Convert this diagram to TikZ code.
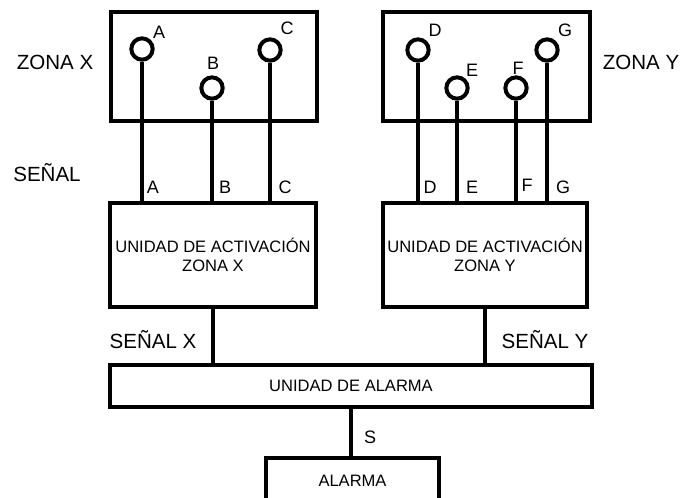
\documentclass[tikz,border=0pt]{standalone}
\usepackage{fontspec}
\setmainfont{Liberation Sans}

\begin{document}
\begin{tikzpicture}[x=0.75pt, y=-0.75pt, line width=3pt,
        box/.style={draw, rectangle, inner sep=0pt},
        sensor/.style={draw, circle, minimum size=16pt, inner sep=0pt},
        tag/.style={font=\fontsize{13.5}{16}\selectfont, inner sep=0pt},
        side/.style={font=\fontsize{15.4}{18}\selectfont, inner sep=0pt},
        unit/.style={font=\fontsize{12.4}{14.3}\selectfont, align=center}]
        \clip (0,0) rectangle (680,497);

        \node[box, minimum width=154.5pt, minimum height=81.75pt] at (214, 66.5)(zoneX){};
        \node[box, minimum width=155.25pt, minimum height=81.75pt] at (486.5, 66.5)(zoneY){};
        \node[box, unit, minimum width=154.5pt, minimum height=78pt] at (213, 255)(actX){UNIDAD DE ACTIVACIÓN\\ZONA X};
        \node[box, unit, minimum width=153pt, minimum height=78pt] at (485, 255)(actY){UNIDAD DE ACTIVACIÓN\\ZONA Y};
        \node[box, unit, minimum width=361.5pt, minimum height=31.5pt] at (351, 386)(unit){UNIDAD DE ALARMA};
        \node[box, minimum width=129.75pt, minimum height=42pt] at (352.5, 486)(alarm){};
        \node[unit] at (352.5, 481)(alarmtext){ALARMA};

        \node[sensor] at (142, 49)(sA){};
        \node[sensor] at (212, 88)(sB){};
        \node[sensor] at (270, 50)(sC){};
        \node[sensor] at (418, 50)(sD){};
        \node[sensor] at (457, 88)(sE){};
        \node[sensor] at (516, 88)(sF){};
        \node[sensor] at (547, 50)(sG){};

        \path[draw]
            (sA)edge(sA |- actX.north)
            (sB)edge(sB |- actX.north)
            (sC)edge(sC |- actX.north)
            (sD)edge(sD |- actY.north)
            (sE)edge(sE |- actY.north)
            (sF)edge(sF |- actY.north)
            (sG)edge(sG |- actY.north)
            (actX.south)edge(actX.south |- unit.north)
            (actY.south)edge(actY.south |- unit.north)
            (unit.south)edge(unit.south |- alarm.north)
            ;

        % sensor names
        \node[tag] at (159, 32)(nA){A};
        \node[tag] at (213, 63)(nB){B};
        \node[tag] at (287, 28)(nC){C};
        \node[tag] at (435, 30)(nD){D};
        \node[tag] at (472, 70)(nE){E};
        \node[tag] at (518, 68)(nF){F};
        \node[tag] at (565, 30)(nG){G};

        % signal names
        \node[tag] at (153, 187)(wA){A};
        \node[tag] at (225, 187)(wB){B};
        \node[tag] at (285, 187)(wC){C};
        \node[tag] at (430, 187)(wD){D};
        \node[tag] at (472, 187)(wE){E};
        \node[tag] at (527, 185)(wF){F};
        \node[tag] at (563, 187)(wG){G};
        \node[tag] at (370, 437)(wS){S};

        \node[side] at (55, 62)(lzx){ZONA X};
        \node[side] at (641, 62)(lzy){ZONA Y};
        \node[side] at (47, 173)(lsig){SEÑAL};
        \node[side] at (153, 340)(lsx){SEÑAL X};
        \node[side] at (545, 340)(lsy){SEÑAL Y};
    \end{tikzpicture}
\end{document}
